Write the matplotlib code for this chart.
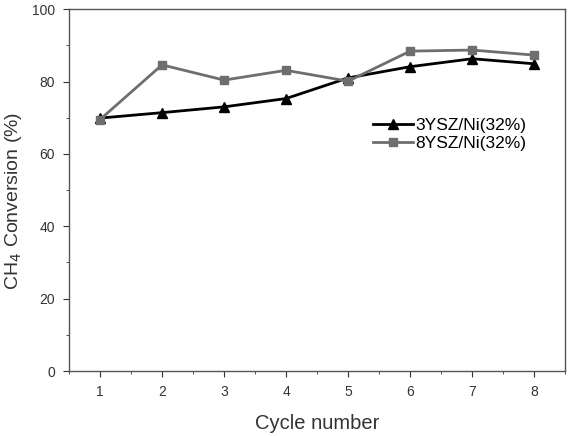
import matplotlib
matplotlib.use("Agg")
import matplotlib.pyplot as plt
from matplotlib.ticker import MultipleLocator

# -------------------------------
# Data
# -------------------------------
cycles = [1, 2, 3, 4, 5, 6, 7, 8]
ysz3_ni = [69.9, 71.4, 73.0, 75.3, 81.0, 84.1, 86.3, 84.9]
ysz8_ni = [69.5, 84.6, 80.4, 83.1, 80.1, 88.4, 88.7, 87.3]

plt.rcParams["font.family"] = ["Liberation Sans", "DejaVu Sans"]

# -------------------------------
# Plot
# -------------------------------
fig = plt.figure(figsize=(5.75, 4.36), dpi=100)
ax = fig.add_axes([0.12, 0.149, 0.863, 0.83])

ax.plot(cycles, ysz3_ni, color="black", marker="^", markersize=6.5, linewidth=2,
        label="3YSZ/Ni(32%)")
ax.plot(cycles, ysz8_ni, color="#6e6e6e", marker="s", markersize=5.5, linewidth=2,
        label="8YSZ/Ni(32%)")

ax.set_xlim(0.5, 8.5)
ax.set_ylim(0, 100)
ax.xaxis.set_major_locator(MultipleLocator(1))
ax.xaxis.set_minor_locator(MultipleLocator(0.5))
ax.yaxis.set_major_locator(MultipleLocator(20))
ax.yaxis.set_minor_locator(MultipleLocator(10))

ax.tick_params(axis="both", which="both", direction="out", top=False, right=False,
               labelsize=10, colors="#333333")
ax.tick_params(which="major", length=4, pad=6)
ax.tick_params(which="minor", length=2.5)

for s in ax.spines.values():
    s.set_color("#555555")
    s.set_linewidth(1)

ax.set_xlabel("Cycle number", fontsize=14.5, color="#333333", labelpad=11)
ax.set_ylabel("CH$_4$ Conversion (%)", fontsize=14, color="#333333")
ax.yaxis.set_label_coords(-0.09, 0.47)

ax.legend(loc="upper left", bbox_to_anchor=(0.613, 0.70), frameon=False, fontsize=12.5,
          handlelength=2.3, handletextpad=0.15, labelspacing=0.15,
          borderpad=0, borderaxespad=0)

plt.savefig("out.png", dpi=100)
plt.close()
